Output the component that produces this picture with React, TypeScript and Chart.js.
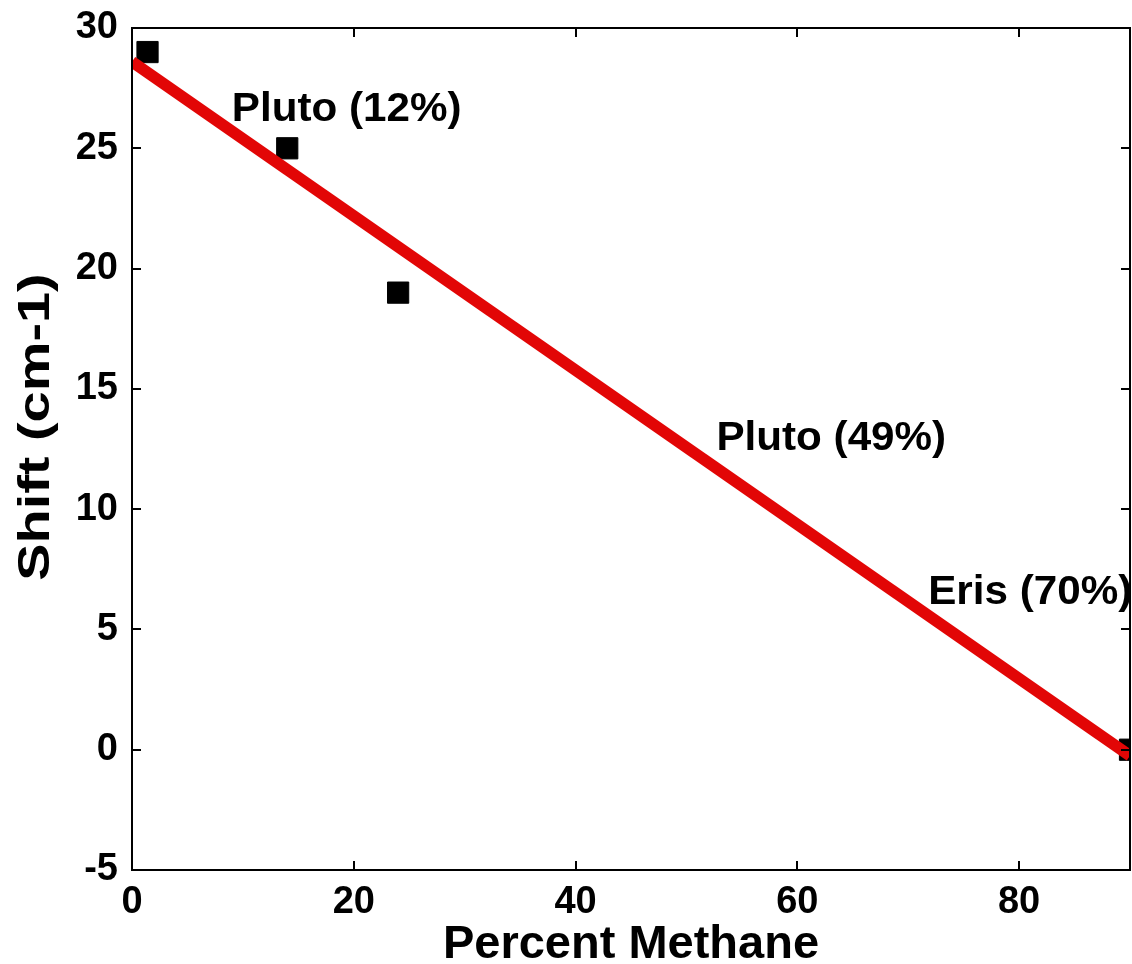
import React, { useEffect, useRef } from "react";
import { Chart, registerables } from "chart.js";

Chart.register(...registerables);

// Measured points
const percentMethane = [1.4, 14, 24, 90];
const shiftValues = [29, 25, 19, 0];

// Linear fit endpoints
const fitX = [0, 90];
const fitY = [28.6, -0.25];

// Text annotations
const annotationLabels = ["Pluto (12%)", "Pluto (49%)", "Eris (70%)"];
const annotationX = [9, 52.7, 71.8];
const annotationY = [26.6, 12.9, 6.5];

const xTitle = "Percent Methane";
const yTitle = "Shift (cm-1)";

const FONT = "'Liberation Sans', Arial, Helvetica, sans-serif";

const boxPlugin = {
  id: "boxAndTicks",
  afterDraw(chart: any) {
    const { ctx, chartArea, scales } = chart;
    const { left, right, top, bottom } = chartArea;
    ctx.save();
    ctx.strokeStyle = "#000";
    ctx.lineWidth = 2;
    ctx.strokeRect(left, top, right - left, bottom - top);
    const tl = 9;
    ctx.beginPath();
    for (const t of scales.x.ticks) {
      const px = Math.round(scales.x.getPixelForValue(t.value));
      ctx.moveTo(px, bottom);
      ctx.lineTo(px, bottom - tl);
      ctx.moveTo(px, top);
      ctx.lineTo(px, top + tl);
    }
    for (const t of scales.y.ticks) {
      const py = Math.round(scales.y.getPixelForValue(t.value));
      ctx.moveTo(left, py);
      ctx.lineTo(left + tl, py);
      ctx.moveTo(right, py);
      ctx.lineTo(right - tl, py);
    }
    ctx.stroke();

    ctx.fillStyle = "#000";
    ctx.font = `bold 40px ${FONT}`;
    ctx.textAlign = "left";
    ctx.textBaseline = "middle";
    annotationLabels.forEach((label, i) => {
      const x = scales.x.getPixelForValue(annotationX[i]);
      const y = scales.y.getPixelForValue(annotationY[i]);
      ctx.save();
      ctx.translate(x, y);
      ctx.scale(1.055, 1);
      ctx.fillText(label, 0, 0);
      ctx.restore();
    });

    // Y axis title (stretched like the original rendering)
    ctx.save();
    ctx.translate(37, (top + bottom) / 2 - 22);
    ctx.rotate(-Math.PI / 2);
    ctx.scale(1.27, 1);
    ctx.font = `bold 44px ${FONT}`;
    ctx.textAlign = "center";
    ctx.textBaseline = "middle";
    ctx.fillText(yTitle, 0, 0);
    ctx.restore();

    ctx.restore();
  },
};

function zeroPadding(scale: any) {
  scale.paddingLeft = 0;
  scale.paddingRight = 0;
  scale.paddingTop = 0;
  scale.paddingBottom = 0;
}

export default function App() {
  const canvasRef = useRef<HTMLCanvasElement | null>(null);

  useEffect(() => {
    if (!canvasRef.current) return;
    const chart = new Chart(canvasRef.current, {
      type: "scatter",
      data: {
        datasets: [
          {
            type: "line",
            label: "Fit",
            data: fitX.map((x, i) => ({ x, y: fitY[i] })),
            borderColor: "rgb(226,6,6)",
            backgroundColor: "rgb(226,6,6)",
            borderWidth: 11.5,
            pointRadius: 0,
            fill: false,
            tension: 0,
          } as any,
          {
            type: "scatter",
            label: "Data",
            data: percentMethane.map((x, i) => ({ x, y: shiftValues[i] })),
            pointStyle: "rect",
            pointRadius: 15,
            pointBorderWidth: 1,
            pointBackgroundColor: "#000",
            pointBorderColor: "#000",
            clip: 0,
          } as any,
        ],
      },
      options: {
        animation: false,
        responsive: false,
        maintainAspectRatio: false,
        layout: { autoPadding: false, padding: { top: 28, right: 2, left: 0, bottom: 0 } },
        plugins: {
          legend: { display: false },
          tooltip: { enabled: false },
        },
        scales: {
          x: {
            type: "linear",
            min: 0,
            max: 90,
            grid: { display: false, drawTicks: false },
            border: { display: false },
            ticks: {
              stepSize: 20,
              includeBounds: false,
              color: "#000",
              padding: 10,
              font: { family: FONT, size: 38, weight: "bold" },
            },
            title: {
              display: true,
              text: xTitle,
              color: "#000",
              padding: { top: 0, bottom: 0 },
              font: { family: FONT, size: 47, weight: "bold", lineHeight: 0.8 },
            },
            afterFit(scale: any) {
              scale.height = 94;
              zeroPadding(scale);
            },
          },
          y: {
            type: "linear",
            min: -5,
            max: 30,
            grid: { display: false, drawTicks: false },
            border: { display: false },
            ticks: {
              stepSize: 5,
              color: "#000",
              padding: 14,
              font: { family: FONT, size: 38, weight: "bold" },
            },
            title: { display: false, text: yTitle },
            afterFit(scale: any) {
              scale.width = 132;
              zeroPadding(scale);
            },
          },
        },
      } as any,
      plugins: [boxPlugin],
    });
    return () => chart.destroy();
  }, []);

  return (
    <div
      style={{
        position: "absolute",
        left: 0,
        top: 0,
        width: 1132,
        height: 964,
        background: "#fff",
      }}
    >
      <canvas ref={canvasRef} width={1132} height={964} />
    </div>
  );
}
